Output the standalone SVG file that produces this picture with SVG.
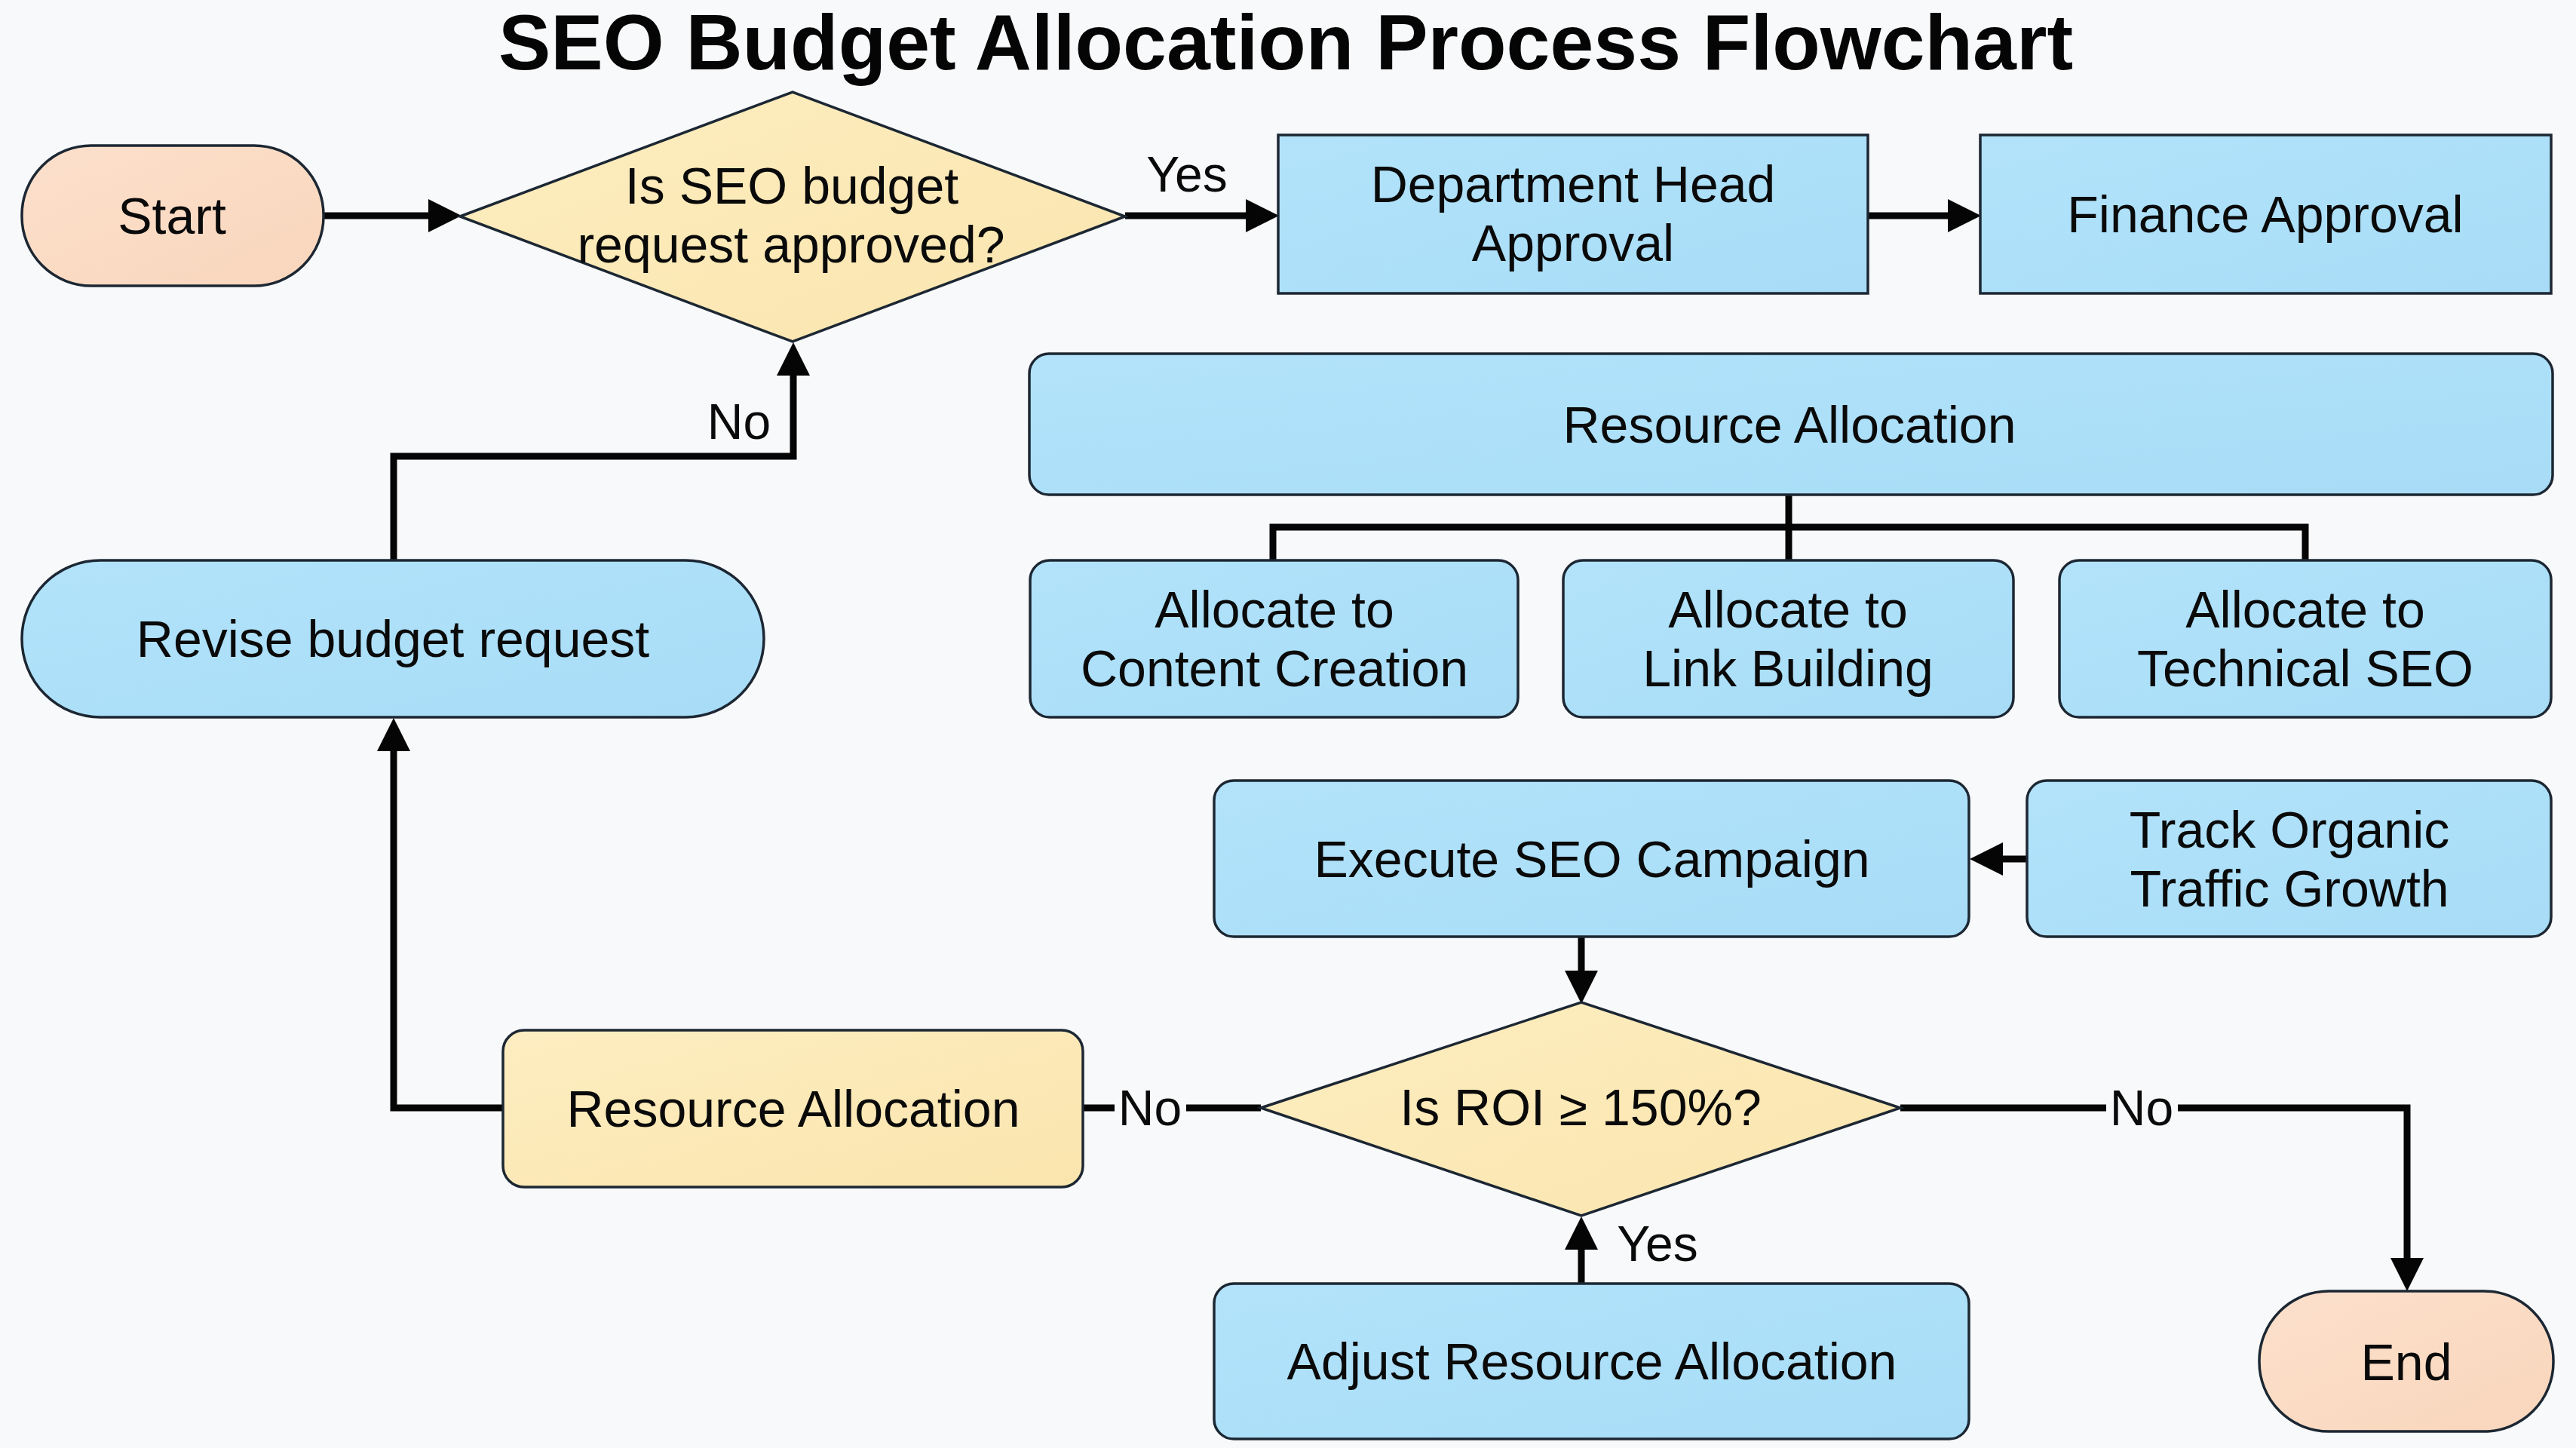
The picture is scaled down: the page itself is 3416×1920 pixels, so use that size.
<svg xmlns="http://www.w3.org/2000/svg" width="3416" height="1920" viewBox="0 0 3416 1920">
<defs>
<marker id="arr" markerUnits="userSpaceOnUse" markerWidth="44" markerHeight="44" viewBox="0 0 44 44" refX="2" refY="22" orient="auto"><path d="M0,0 L44,22 L0,44 z" fill="#050505"/></marker>
<linearGradient id="gBlue" x1="0" y1="0" x2="1" y2="1"><stop offset="0" stop-color="#B2E3FB"/><stop offset="1" stop-color="#A8DCF6"/></linearGradient>
<linearGradient id="gYel" x1="0" y1="0" x2="1" y2="1"><stop offset="0" stop-color="#FDEDC0"/><stop offset="1" stop-color="#FAE5AE"/></linearGradient>
<linearGradient id="gPeach" x1="0" y1="0" x2="1" y2="1"><stop offset="0" stop-color="#FCE0CC"/><stop offset="1" stop-color="#F9D6BC"/></linearGradient>
</defs>
<style>
.blue{fill:url(#gBlue);stroke:#1C2733;stroke-width:3.5}
.yel{fill:url(#gYel);stroke:#1C2733;stroke-width:3.5}
.peach{fill:url(#gPeach);stroke:#1C2733;stroke-width:3.5}
.t{font-family:"Liberation Sans",Arial,Helvetica,sans-serif;font-size:68px;fill:#0A0A0A;text-anchor:middle}
.lbl{font-family:"Liberation Sans",Arial,Helvetica,sans-serif;font-size:66px;fill:#0A0A0A;text-anchor:middle}
.title{font-family:"Liberation Sans",Arial,Helvetica,sans-serif;font-size:104px;font-weight:bold;fill:#050505;text-anchor:middle}
.c{fill:none;stroke:#050505;stroke-width:9}
</style>
<rect width="3416" height="1920" fill="#F8F9FA"/>
<text class="title" x="1705" y="92">SEO Budget Allocation Process Flowchart</text>

<g id="connectors">
<path class="c" d="M429,286 H570" marker-end="url(#arr)"/>
<path class="c" d="M1492,286 H1654" marker-end="url(#arr)"/>
<path class="c" d="M2478,286 H2585" marker-end="url(#arr)"/>
<path class="c" d="M2372,656 V743 M1688,743 V699 H3057 V743"/>
<path class="c" d="M2688,1139 H2654" marker-end="url(#arr)"/>
<path class="c" d="M2097,1243 V1289" marker-end="url(#arr)"/>
<path class="c" d="M2097,1702 V1655" marker-end="url(#arr)"/>
<path class="c" d="M1672,1469 H1573 M1478,1469 H1436"/>
<path class="c" d="M667,1469 H522 V994" marker-end="url(#arr)"/>
<path class="c" d="M522,743 V605 H1052 V496" marker-end="url(#arr)"/>
<path class="c" d="M2520,1469 H2793 M2888,1469 H3192 V1670" marker-end="url(#arr)"/>
<text class="lbl" x="1574" y="254">Yes</text>
<text class="lbl" x="980" y="582">No</text>
<text class="lbl" x="1525" y="1492">No</text>
<text class="lbl" x="2840" y="1492">No</text>
<text class="lbl" x="2198" y="1672">Yes</text>
</g>

<g id="start"><rect class="peach" x="29" y="193" width="400" height="186" rx="92" ry="92"/><text class="t" x="228" y="310">Start</text></g>
<g id="decision-approved"><polygon class="yel" points="610,287 1051,122 1492,287 1051,453"/><text class="t" x="1050" y="270">Is SEO budget</text><text class="t" x="1049" y="348">request approved?</text></g>
<g id="dept-head"><rect class="blue" x="1695" y="179" width="782" height="210"/><text class="t" x="2086" y="268">Department Head</text><text class="t" x="2086" y="346">Approval</text></g>
<g id="finance"><rect class="blue" x="2626" y="179" width="757" height="210"/><text class="t" x="3004" y="308">Finance Approval</text></g>
<g id="resource-allocation"><rect class="blue" x="1365" y="469" width="2020" height="187" rx="26"/><text class="t" x="2373" y="587">Resource Allocation</text></g>
<g id="content"><rect class="blue" x="1366" y="743" width="647" height="208" rx="26"/><text class="t" x="1690" y="832">Allocate to</text><text class="t" x="1690" y="910">Content Creation</text></g>
<g id="link"><rect class="blue" x="2073" y="743" width="597" height="208" rx="26"/><text class="t" x="2371" y="832">Allocate to</text><text class="t" x="2371" y="910">Link Building</text></g>
<g id="technical"><rect class="blue" x="2731" y="743" width="652" height="208" rx="26"/><text class="t" x="3057" y="832">Allocate to</text><text class="t" x="3057" y="910">Technical SEO</text></g>
<g id="execute"><rect class="blue" x="1610" y="1035" width="1001" height="207" rx="26"/><text class="t" x="2111" y="1163">Execute SEO Campaign</text></g>
<g id="track"><rect class="blue" x="2688" y="1035" width="695" height="207" rx="26"/><text class="t" x="3036" y="1124">Track Organic</text><text class="t" x="3036" y="1202">Traffic Growth</text></g>
<g id="decision-roi"><polygon class="yel" points="1672,1469 2097,1329 2520,1469 2097,1612"/><text class="t" x="2096" y="1492">Is ROI ≥ 150%?</text></g>
<g id="resource-allocation-2"><rect class="yel" x="667" y="1366" width="769" height="208" rx="28"/><text class="t" x="1052" y="1494">Resource Allocation</text></g>
<g id="adjust"><rect class="blue" x="1610" y="1702" width="1001" height="206" rx="26"/><text class="t" x="2111" y="1829">Adjust Resource Allocation</text></g>
<g id="end"><rect class="peach" x="2996" y="1712" width="390" height="186" rx="92" ry="92"/><text class="t" x="3191" y="1830">End</text></g>
<g id="revise"><rect class="blue" x="29" y="743" width="984" height="208" rx="104" ry="104"/><text class="t" x="521" y="871">Revise budget request</text></g>
</svg>
